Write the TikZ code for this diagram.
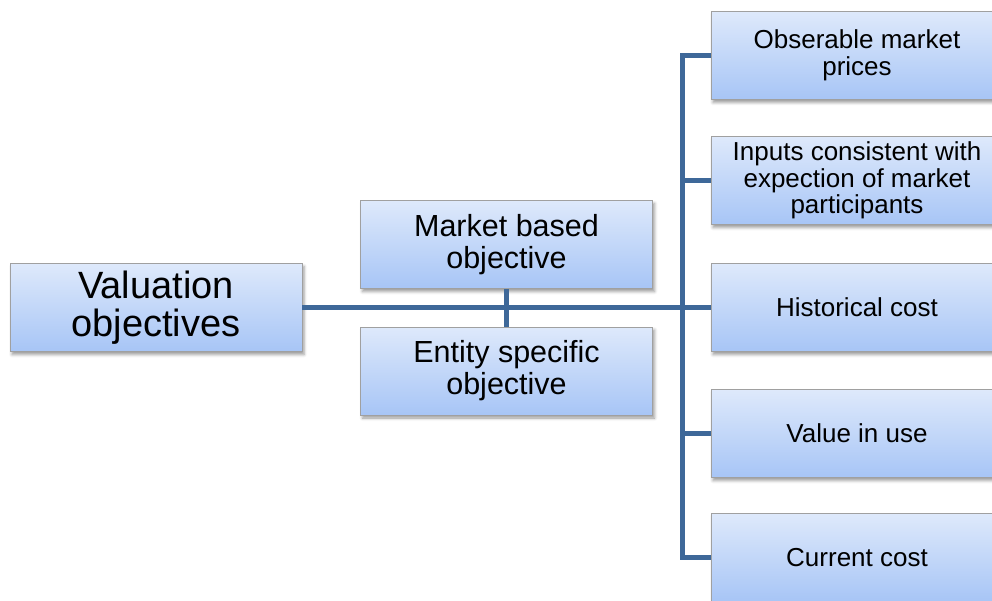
\documentclass[tikz,border=0pt]{standalone}
\usepackage{fontspec}
\setmainfont{Liberation Sans}
\usetikzlibrary{shadows.blur}
\definecolor{linkblue}{RGB}{62,104,153}
\definecolor{boxtop}{RGB}{222,233,251}
\definecolor{boxbot}{RGB}{167,197,246}
\definecolor{boxline}{RGB}{160,160,160}

\begin{document}
\begin{tikzpicture}[x=1pt,y=1pt,yscale=-1,xscale=1,
  box/.style={draw=boxline, line width=0.8pt, top color=boxtop, bottom color=boxbot,
    minimum width=292pt, minimum height=88pt, inner sep=0pt, align=center,
    blur shadow={shadow xshift=2pt, shadow yshift=-3pt, shadow opacity=40, shadow blur radius=3pt}},
  rootbox/.style={box, font=\fontsize{38}{38.5}\selectfont},
  midbox/.style={box, font=\fontsize{30.5}{32}\selectfont},
  leafbox/.style={box, font=\fontsize{26}{26.5}\selectfont},
  link/.style={draw=linkblue, line width=5pt}]
\useasboundingbox (0,0) rectangle (992,601);
\clip (0,0) rectangle (992,601);

%Shape: Rectangle
\node [rootbox] (val) at (156,307.5) {Valuation\\objectives};
\node [midbox] (mkt) at (506.5,244.5) {Market based\\objective};
\node [midbox] (ent) at (506.5,371) {Entity specific\\objective};

\node [leafbox] (obs) at (857,55.5) {Obserable market\\prices};
\node [leafbox] (inp) at (857,180.5) {Inputs consistent with\\expection of market\\participants};
\node [leafbox] (hist) at (857,307.5) {Historical cost};
\node [leafbox] (use) at (857,433.5) {Value in use};
\node [leafbox] (cur) at (857,557.5) {Current cost};

%Straight Lines
\draw [link] (val.east) -- (hist.west);
\draw [link] (mkt.south) -- (ent.north);
\draw [link] (obs.west) -- ++(-28.5,0) |- (cur.west);
\draw [link] (inp.west) -- ++(-28.5,0);
\draw [link] (use.west) -- ++(-28.5,0);

\end{tikzpicture}
\end{document}
